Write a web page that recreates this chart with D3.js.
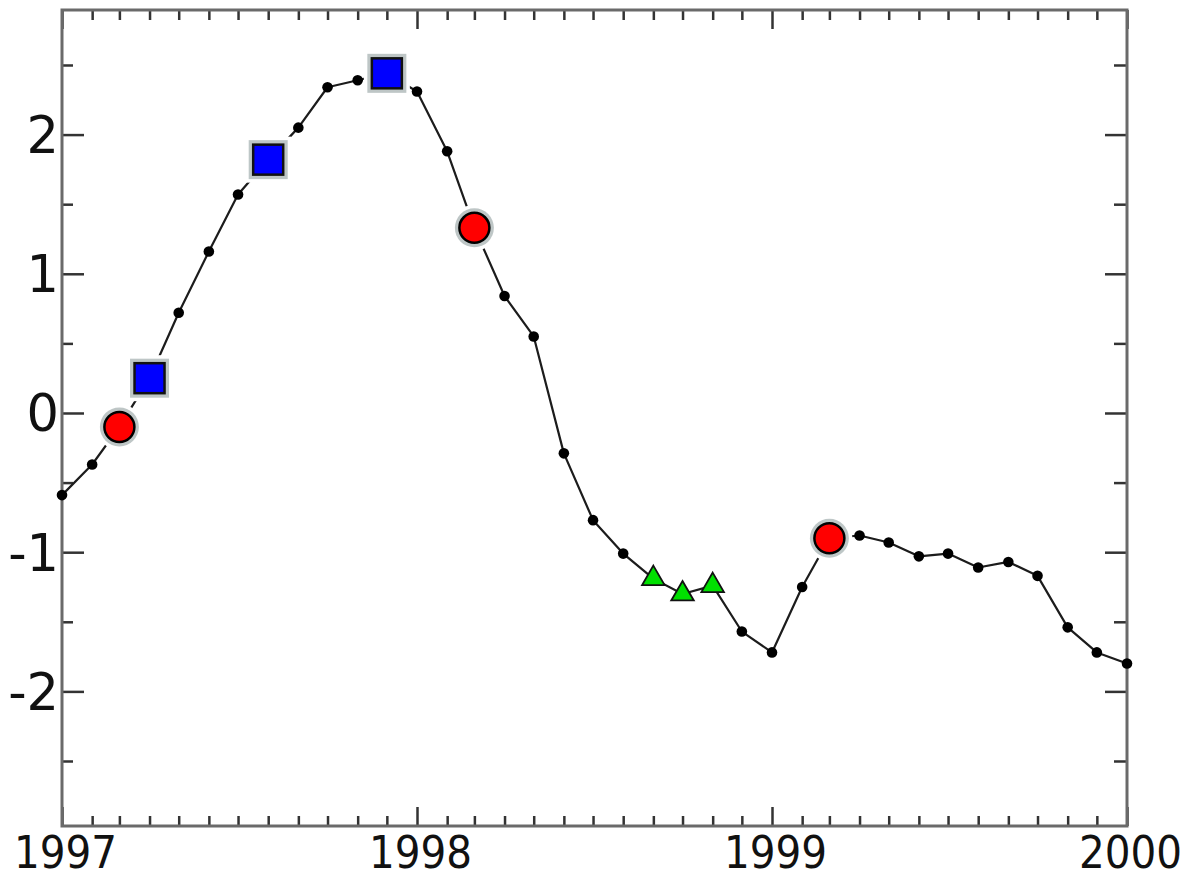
<!DOCTYPE html>
<html>
<head>
<meta charset="utf-8">
<script src="https://cdn.jsdelivr.net/npm/d3@7"></script>
<style>
  html, body { margin: 0; padding: 0; background: #fff; }
  svg { display: block; }
</style>
</head>
<body>
<svg id="chart" width="1189" height="879"></svg>
<script>
// monthly series, Jan 1997 .. Jan 2000
const months = [
  '1997-01', '1997-02', '1997-03', '1997-04', '1997-05', '1997-06',
  '1997-07', '1997-08', '1997-09', '1997-10', '1997-11', '1997-12',
  '1998-01', '1998-02', '1998-03', '1998-04', '1998-05', '1998-06',
  '1998-07', '1998-08', '1998-09', '1998-10', '1998-11', '1998-12',
  '1999-01', '1999-02', '1999-03', '1999-04', '1999-05', '1999-06',
  '1999-07', '1999-08', '1999-09', '1999-10', '1999-11', '1999-12',
  '2000-01'
];
const values = [
  -0.59, -0.37, -0.10, 0.25, 0.72, 1.16, 1.57, 1.82, 2.05, 2.34, 2.39, 2.44,
  2.31, 1.88, 1.33, 0.84, 0.55, -0.29, -0.77, -1.01, -1.19, -1.30, -1.24, -1.57,
  -1.72, -1.25, -0.90, -0.88, -0.93, -1.03, -1.01, -1.11, -1.07, -1.17, -1.54, -1.72,
  -1.80
];
// highlighted months
const redMonths = ['1997-03', '1998-03', '1999-03'];
const blueMonths = ['1997-04', '1997-08', '1997-12'];
const greenMonths = ['1998-09', '1998-10', '1998-11'];

const yMajor = [-2, -1, 0, 1, 2];
const yMinor = [-2.5, -1.5, -0.5, 0.5, 1.5, 2.5];
const yearTicks = ['1997', '1998', '1999', '2000'];

const W = 1189, H = 879;
const m = { top: 10, right: 62, bottom: 53, left: 62 };
const w = W - m.left - m.right;
const h = H - m.top - m.bottom;

const parse = d3.utcParse('%Y-%m');
const data = months.map((d, i) => ({
  date: parse(d),
  value: values[i],
  kind: redMonths.includes(d) ? 'red' : blueMonths.includes(d) ? 'blue' : greenMonths.includes(d) ? 'green' : 'dot'
}));

const svg = d3.select('#chart');
svg.append('rect').attr('width', W).attr('height', H).attr('fill', '#fff');
const g = svg.append('g').attr('transform', `translate(${m.left},${m.top})`);

const x = d3.scaleUtc().domain([parse('1997-01'), parse('2000-01')]).range([0, w]);
const y = d3.scaleLinear().domain([-2.967, 2.895]).range([h, 0]);

const yearDates = yearTicks.map(d => d3.utcParse('%Y')(d));
const monthDates = d3.utcMonth.range(parse('1997-01'), parse('2000-01')).filter(d => d.getUTCMonth() !== 0);

// ─── TICKS (inside, all four sides) ───
const tickStyle = sel => {
  sel.select('.domain').remove();
  sel.selectAll('line').attr('stroke', '#333').attr('stroke-width', 2.5);
  sel.selectAll('text').remove();
};
g.append('g').attr('transform', `translate(0,${h})`)
  .call(d3.axisBottom(x).tickValues(monthDates).tickSize(-10)).call(tickStyle);
g.append('g').attr('transform', `translate(0,${h})`)
  .call(d3.axisBottom(x).tickValues(yearDates).tickSize(-19)).call(tickStyle);
g.append('g')
  .call(d3.axisTop(x).tickValues(monthDates).tickSize(-10)).call(tickStyle);
g.append('g')
  .call(d3.axisTop(x).tickValues(yearDates).tickSize(-19)).call(tickStyle);
g.append('g').call(d3.axisLeft(y).tickValues(yMajor).tickSize(-22)).call(tickStyle);
g.append('g').call(d3.axisLeft(y).tickValues(yMinor).tickSize(-11)).call(tickStyle);
g.append('g').attr('transform', `translate(${w},0)`)
  .call(d3.axisRight(y).tickValues(yMajor).tickSize(-22)).call(tickStyle);
g.append('g').attr('transform', `translate(${w},0)`)
  .call(d3.axisRight(y).tickValues(yMinor).tickSize(-13)).call(tickStyle);

// frame
g.append('rect').attr('width', w).attr('height', h)
  .attr('fill', 'none').attr('stroke', '#6a6a6a').attr('stroke-width', 3);

// ─── LABELS ───
const xLab = g.append('g').attr('transform', `translate(0,${h})`)
  .call(d3.axisBottom(x).tickValues(yearDates).tickSize(0).tickFormat(d3.utcFormat('%Y')));
xLab.select('.domain').remove();
xLab.selectAll('text')
  .attr('y', 42).attr('dy', 0).attr('dx', 3)
  .attr('font-family', '"DejaVu Sans Condensed", "DejaVu Sans", sans-serif')
  .attr('font-stretch', 'condensed')
  .attr('font-size', 45)
  .attr('fill', '#111');

const yLab = g.append('g')
  .call(d3.axisLeft(y).tickValues(yMajor).tickSize(0).tickPadding(3).tickFormat(d => String(d)));
yLab.select('.domain').remove();
yLab.selectAll('text')
  .attr('dy', '0.35em')
  .attr('font-family', 'DejaVu Sans, sans-serif').attr('font-size', 51)
  .attr('fill', '#111');

// ─── SERIES ───
const line = d3.line().x(d => x(d.date)).y(d => y(d.value));
g.append('path').datum(data)
  .attr('d', line).attr('fill', 'none')
  .attr('stroke', '#1c1c1c').attr('stroke-width', 2.2).attr('stroke-linejoin', 'round');

const big = data.filter(d => d.kind === 'red' || d.kind === 'blue');
const shape = (sel, extra) => sel.each(function(d) {
  const s = d3.select(this);
  const cx = x(d.date), cy = y(d.value);
  if (d.kind === 'red') {
    s.append('circle').attr('cx', cx).attr('cy', cy).attr('r', 16 + extra);
  } else {
    const half = 16 + extra;
    s.append('rect').attr('x', cx - half).attr('y', cy - half)
      .attr('width', half * 2).attr('height', half * 2);
  }
});

// white gap where the line meets the big markers
g.append('g').attr('fill', '#fff').selectAll('g').data(big).join('g').call(shape, 7);

// small dots
g.append('g').selectAll('circle').data(data.filter(d => d.kind === 'dot')).join('circle')
  .attr('cx', d => x(d.date)).attr('cy', d => y(d.value)).attr('r', 5.3)
  .attr('fill', '#000');

// grey halo
g.append('g').attr('fill', '#b3bdbd').attr('opacity', 0.85)
  .selectAll('g').data(big).join('g').call(shape, 3.5);

// markers
const markerG = g.append('g');
big.forEach(d => {
  const cx = x(d.date), cy = y(d.value);
  if (d.kind === 'red') {
    markerG.append('circle').attr('cx', cx).attr('cy', cy).attr('r', 15)
      .attr('fill', '#ff0000').attr('stroke', '#000').attr('stroke-width', 2.5);
  } else {
    markerG.append('rect').attr('x', cx - 15).attr('y', cy - 15)
      .attr('width', 30).attr('height', 30)
      .attr('fill', '#0000ff').attr('stroke', '#111').attr('stroke-width', 2.5);
  }
});

markerG.selectAll('.tri').data(data.filter(d => d.kind === 'green')).join('path')
  .attr('class', 'tri')
  .attr('transform', d => `translate(${x(d.date)},${y(d.value)})`)
  .attr('d', d3.symbol(d3.symbolTriangle, 220))
  .attr('fill', '#00e000').attr('stroke', '#111').attr('stroke-width', 1.8)
  .attr('stroke-linejoin', 'miter');
</script>
</body>
</html>
